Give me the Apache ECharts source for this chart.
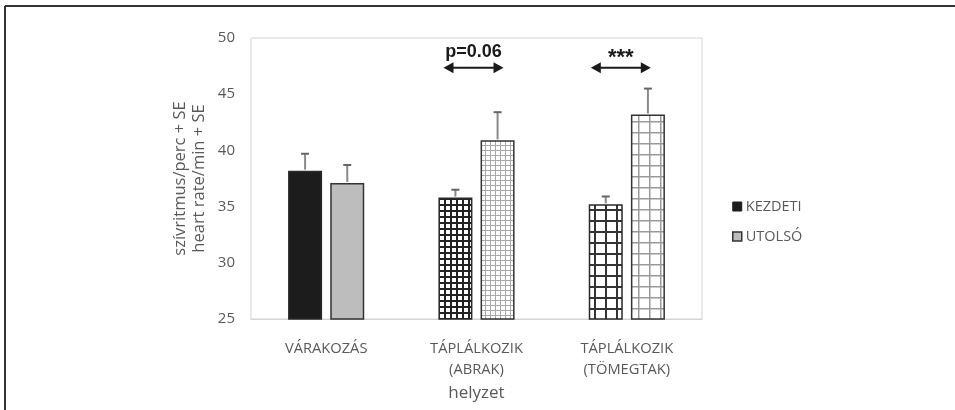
<!DOCTYPE html>
<html>
<head>
<meta charset="utf-8">
<script src="https://cdn.jsdelivr.net/npm/echarts@6/dist/echarts.min.js"></script>
<style>
html,body{margin:0;padding:0;background:#fff;}
#chart{width:955px;height:410px;}
</style>
</head>
<body>
<div id="chart"></div>
<script>
// ---- data ----
const categories = ['VÁRAKOZÁS', 'TÁPLÁLKOZIK\n(ABRAK)', 'TÁPLÁLKOZIK\n(TÖMEGTAK)'];
const seriesNames = ['KEZDETI', 'UTOLSÓ'];
const kezdeti = [38.2, 35.8, 35.2];
const kezdetiSE = [1.5, 0.7, 0.7];
const utolso = [37.1, 40.9, 43.2];
const utolsoSE = [1.6, 2.5, 2.3];
const yTicks = [25, 30, 35, 40, 45, 50];
const annotations = [
  { cat: 1, label: 'p=0.06' },
  { cat: 2, label: '***' }
];
const yAxisName = ['szívritmus/perc + SE', 'heart rate/min + SE'];
const xAxisName = 'helyzet';

// ---- styles ----
const FONT = 'Open Sans';
const TXT = '#595959';
const BAR_W = 34;
const GAP = 0.24;
const OFF = (BAR_W + BAR_W * GAP) / 2;

function gridPattern(cell, lineColor, lw, bg) {
  const c = document.createElement('canvas');
  c.width = cell; c.height = cell;
  const ctx = c.getContext('2d');
  ctx.fillStyle = bg; ctx.fillRect(0, 0, cell, cell);
  ctx.fillStyle = lineColor;
  ctx.fillRect(0, 0, lw, cell);
  ctx.fillRect(0, 0, cell, lw);
  return { image: c, repeat: 'repeat' };
}

const kezdetiFills = [
  '#1c1c1c',
  gridPattern(6, '#222', 2, '#fff'),
  gridPattern(11, '#333', 2, '#fff')
];
const utolsoFills = [
  '#bdbdbd',
  gridPattern(5, '#a8a8a8', 1, '#fff'),
  gridPattern(11, '#9a9a9a', 1.5, '#fff')
];

function barData(vals, fills) {
  return vals.map((v, i) => ({
    value: v,
    itemStyle: { color: fills[i] }
  }));
}

function errData(vals, se) {
  return vals.map((v, i) => [i, v, se[i]]);
}

function errRender(offset) {
  return function (params, api) {
    const cat = api.value(0), v = api.value(1), se = api.value(2);
    const base = api.coord([cat, v]);
    const top = api.coord([cat, v + se]);
    const x = base[0] + offset;
    return {
      type: 'group',
      children: [
        { type: 'line', shape: { x1: x, y1: base[1] - 1, x2: x, y2: top[1] },
          style: { stroke: '#8a8a8a', lineWidth: 2 } },
        { type: 'line', shape: { x1: x - 4, y1: top[1], x2: x + 4, y2: top[1] },
          style: { stroke: '#666', lineWidth: 2 } }
      ]
    };
  };
}

const chart = echarts.init(document.getElementById('chart'), null, { renderer: 'canvas' });

const option = {
  backgroundColor: '#fff',
  animation: false,
  textStyle: { fontFamily: FONT },
  grid: {
    left: 251, right: 253, top: 38, bottom: 91,
    show: true, borderColor: '#d4d4d4', borderWidth: 1, backgroundColor: 'transparent'
  },
  legend: {
    orient: 'vertical',
    left: 727, top: 194,
    itemWidth: 9, itemHeight: 9, itemGap: 15,
    icon: 'rect',
    textStyle: { fontFamily: FONT, fontSize: 14.5, color: TXT, padding: [0, 0, 0, -1] },
    data: [
      { name: seriesNames[0], itemStyle: { color: '#1c1c1c', borderColor: '#1c1c1c', borderWidth: 1 } },
      { name: seriesNames[1], itemStyle: { color: '#bdbdbd', borderColor: '#333', borderWidth: 1.5 } }
    ]
  },
  xAxis: {
    type: 'category',
    data: categories,
    axisLine: { show: true, lineStyle: { color: '#d4d4d4', width: 1 } },
    axisTick: { show: false },
    axisLabel: { fontFamily: FONT, fontSize: 14.7, color: TXT, margin: 19, lineHeight: 21 },
    name: xAxisName,
    nameLocation: 'middle',
    nameGap: 61,
    nameTextStyle: { fontFamily: FONT, fontSize: 17, color: TXT }
  },
  yAxis: {
    type: 'value',
    min: yTicks[0], max: yTicks[yTicks.length - 1], interval: yTicks[1] - yTicks[0],
    axisLine: { show: false },
    axisTick: { show: false },
    splitLine: { show: false },
    axisLabel: { fontFamily: FONT, fontSize: 15, color: TXT, margin: 16 },
    name: yAxisName.join('\n'),
    nameLocation: 'middle',
    nameGap: 42,
    nameRotate: 90,
    nameTextStyle: { fontFamily: FONT, fontSize: 16.5, color: TXT, lineHeight: 19 }
  },
  series: [
    {
      name: seriesNames[0], type: 'bar', barWidth: BAR_W, barGap: (GAP * 100) + '%',
      itemStyle: { color: '#1c1c1c', borderColor: '#2a2a2a', borderWidth: 1.5 },
      data: barData(kezdeti, kezdetiFills)
    },
    {
      name: seriesNames[1], type: 'bar', barWidth: BAR_W, barGap: (GAP * 100) + '%',
      itemStyle: { color: '#bdbdbd', borderColor: '#333', borderWidth: 1.5 },
      data: barData(utolso, utolsoFills)
    },
    {
      type: 'custom', name: 'errK', renderItem: errRender(-OFF), data: errData(kezdeti, kezdetiSE),
      z: 5, silent: true, encode: { x: 0, y: [1] }
    },
    {
      type: 'custom', name: 'errU', renderItem: errRender(OFF), data: errData(utolso, utolsoSE),
      z: 5, silent: true, encode: { x: 0, y: [1] }
    }
  ]
};

chart.setOption(option);

// annotations (arrows + significance labels) positioned through the axes
const graphics = [
  { type: 'line', shape: { x1: 5, y1: 6, x2: 955, y2: 6 }, style: { stroke: '#333', lineWidth: 2 } },
  { type: 'line', shape: { x1: 5, y1: 6, x2: 5, y2: 410 }, style: { stroke: '#333', lineWidth: 2 } }
];
annotations.forEach(a => {
  const pText = chart.convertToPixel({ gridIndex: 0 }, [a.cat, 48.75]);
  const pArr = chart.convertToPixel({ gridIndex: 0 }, [a.cat, 47.35]);
  const stars = /^\*+$/.test(a.label);
  const cx = pArr[0] - (stars ? 6 : 3), y = pArr[1];
  const hw = 30, hl = 10, hh = 5.5;
  graphics.push({
    type: 'line', shape: { x1: cx - hw + hl - 1, y1: y, x2: cx + hw - hl + 1, y2: y },
    style: { stroke: '#1a1a1a', lineWidth: 2 }
  });
  graphics.push({
    type: 'polygon', shape: { points: [[cx - hw, y], [cx - hw + hl, y - hh], [cx - hw + hl, y + hh]] },
    style: { fill: '#1a1a1a' }
  });
  graphics.push({
    type: 'polygon', shape: { points: [[cx + hw, y], [cx + hw - hl, y - hh], [cx + hw - hl, y + hh]] },
    style: { fill: '#1a1a1a' }
  });
  graphics.push({
    type: 'text', x: cx, y: pText[1] + (stars ? 6 : 0),
    style: {
      text: a.label, fill: '#1a1a1a', align: 'center', verticalAlign: 'middle',
      font: (stars ? 'bold 22px' : 'bold 18px') + ' "Liberation Sans", Arial, sans-serif'
    }
  });
});
chart.setOption({ graphic: graphics });
</script>
</body>
</html>
